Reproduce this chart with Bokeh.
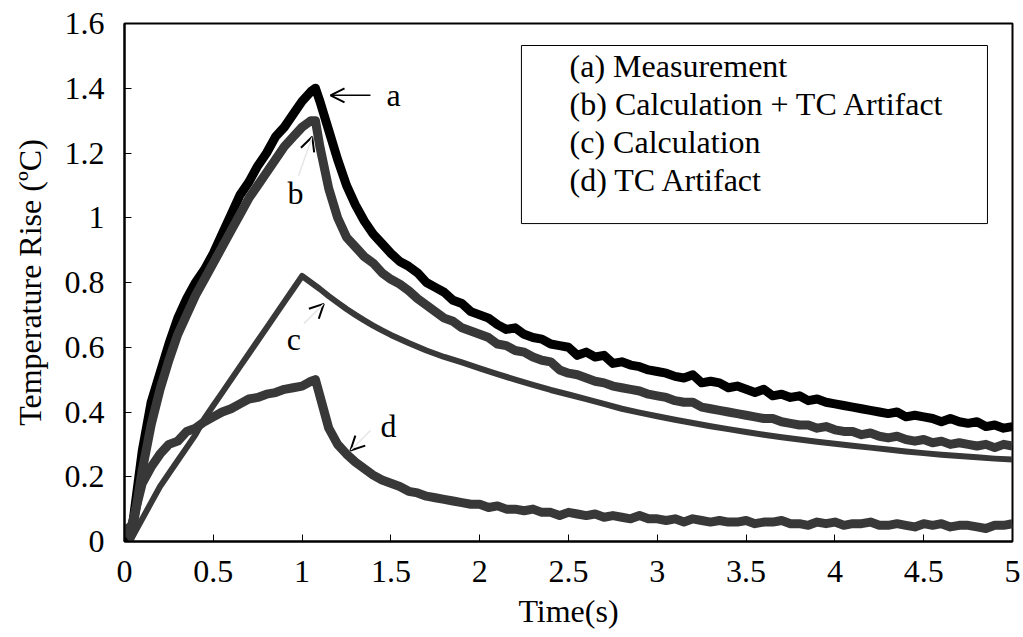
from bokeh.plotting import figure
from bokeh.models import (Range1d, FixedTicker, CustomJSTickFormatter, Arrow, OpenHead,
                          Label, BoxAnnotation)
from bokeh.embed import file_html
from bokeh.resources import INLINE

# ---------------- data ----------------
time_s = [0.00, 0.03, 0.05, 0.10, 0.15, 0.20, 0.25, 0.30, 0.35, 0.40, 0.45, 0.50,
          0.55, 0.60, 0.65, 0.70, 0.75, 0.80, 0.85, 0.90, 0.95, 1.00, 1.05, 1.075,
          1.10, 1.15, 1.20, 1.25, 1.30, 1.35, 1.40, 1.45,
          1.50, 1.55, 1.60, 1.65, 1.70, 1.75, 1.80, 1.85, 1.90, 1.95,
          2.00, 2.05, 2.10, 2.15, 2.20, 2.25, 2.30, 2.35, 2.40, 2.45,
          2.50, 2.55, 2.60, 2.65, 2.70, 2.75, 2.80, 2.85, 2.90, 2.95,
          3.00, 3.05, 3.10, 3.15, 3.20, 3.25, 3.30, 3.35, 3.40, 3.45,
          3.50, 3.55, 3.60, 3.65, 3.70, 3.75, 3.80, 3.85, 3.90, 3.95,
          4.00, 4.05, 4.10, 4.15, 4.20, 4.25, 4.30, 4.35, 4.40, 4.45,
          4.50, 4.55, 4.60, 4.65, 4.70, 4.75, 4.80, 4.85, 4.90, 4.95, 5.00]

measurement = [0.02, 0.01, 0.07, 0.28, 0.43, 0.52, 0.61, 0.69, 0.75, 0.80, 0.84, 0.89,
               0.95, 1.01, 1.07, 1.11, 1.16, 1.20, 1.25, 1.28, 1.32, 1.36, 1.39, 1.40,
               1.36, 1.27, 1.18, 1.10, 1.04, 0.99, 0.95, 0.92,
               0.89, 0.865, 0.85, 0.83, 0.80, 0.785, 0.77, 0.745, 0.735, 0.71,
               0.70, 0.69, 0.67, 0.655, 0.66, 0.64, 0.63, 0.625, 0.61, 0.605,
               0.60, 0.575, 0.585, 0.57, 0.575, 0.55, 0.555, 0.545, 0.54, 0.53,
               0.525, 0.52, 0.51, 0.505, 0.515, 0.49, 0.495, 0.49, 0.475, 0.48,
               0.47, 0.46, 0.47, 0.45, 0.455, 0.445, 0.45, 0.435, 0.44, 0.43,
               0.425, 0.42, 0.415, 0.41, 0.405, 0.40, 0.395, 0.40, 0.385, 0.39,
               0.385, 0.38, 0.37, 0.38, 0.37, 0.365, 0.37, 0.355, 0.36, 0.35, 0.355]

calc_plus_tc = [0.04, 0.02, 0.05, 0.22, 0.36, 0.47, 0.56, 0.64, 0.70, 0.76, 0.81, 0.86,
                0.91, 0.96, 1.01, 1.06, 1.10, 1.14, 1.18, 1.22, 1.25, 1.28, 1.30, 1.30,
                1.22, 1.09, 1.00, 0.94, 0.91, 0.88, 0.86, 0.83,
                0.81, 0.795, 0.775, 0.75, 0.73, 0.71, 0.69, 0.68, 0.66, 0.65,
                0.64, 0.63, 0.61, 0.605, 0.59, 0.585, 0.57, 0.56, 0.555, 0.53,
                0.52, 0.515, 0.505, 0.495, 0.49, 0.48, 0.475, 0.47, 0.465, 0.455,
                0.45, 0.445, 0.435, 0.43, 0.43, 0.415, 0.41, 0.405, 0.40, 0.395,
                0.39, 0.385, 0.38, 0.38, 0.37, 0.365, 0.36, 0.36, 0.35, 0.355,
                0.345, 0.34, 0.34, 0.33, 0.335, 0.325, 0.32, 0.325, 0.315, 0.31,
                0.315, 0.305, 0.31, 0.30, 0.305, 0.30, 0.295, 0.30, 0.29, 0.30, 0.295]

tc_artifact = [0.05, 0.03, 0.07, 0.18, 0.23, 0.27, 0.30, 0.31, 0.34, 0.35, 0.37, 0.385,
               0.40, 0.41, 0.425, 0.44, 0.445, 0.455, 0.46, 0.47, 0.475, 0.48, 0.495, 0.50,
               0.45, 0.35, 0.30, 0.27, 0.245, 0.225, 0.205, 0.19,
               0.18, 0.17, 0.155, 0.15, 0.14, 0.135, 0.13, 0.125, 0.12, 0.115,
               0.115, 0.105, 0.11, 0.10, 0.10, 0.095, 0.10, 0.09, 0.09, 0.08,
               0.09, 0.085, 0.08, 0.085, 0.075, 0.08, 0.075, 0.07, 0.08, 0.07,
               0.07, 0.065, 0.07, 0.06, 0.07, 0.065, 0.06, 0.065, 0.06, 0.06,
               0.065, 0.055, 0.06, 0.06, 0.065, 0.055, 0.055, 0.05, 0.06, 0.055,
               0.06, 0.05, 0.055, 0.055, 0.06, 0.05, 0.05, 0.055, 0.05, 0.045,
               0.055, 0.05, 0.055, 0.045, 0.05, 0.05, 0.045, 0.04, 0.05, 0.05, 0.055]

time_calc = [0.03, 0.05, 0.10, 0.15, 0.20, 0.25, 0.30, 0.35, 0.40, 0.45, 0.50, 0.55,
             0.60, 0.65, 0.70, 0.75, 0.80, 0.85, 0.90, 0.95, 1.00, 1.05, 1.10, 1.15,
             1.20, 1.25, 1.30, 1.35, 1.40, 1.45, 1.50, 1.6, 1.7, 1.8, 1.9, 2.0,
             2.1, 2.2, 2.3, 2.4, 2.5, 2.6, 2.7, 2.8, 2.9, 3.0, 3.1, 3.2, 3.3, 3.4,
             3.5, 3.6, 3.7, 3.8, 3.9, 4.0, 4.1, 4.2, 4.3, 4.4, 4.5, 4.6, 4.7, 4.8,
             4.9, 5.0]
calculation = [0.0, 0.02, 0.07, 0.12, 0.17, 0.21, 0.25, 0.29, 0.33, 0.38, 0.42, 0.46,
               0.50, 0.54, 0.58, 0.62, 0.66, 0.70, 0.74, 0.78, 0.82, 0.80, 0.78, 0.758,
               0.738, 0.718, 0.70, 0.683, 0.667, 0.652, 0.638, 0.613, 0.59, 0.57, 0.553, 0.535,
               0.517, 0.50, 0.484, 0.468, 0.454, 0.44, 0.425, 0.41, 0.398, 0.387, 0.376, 0.366,
               0.356, 0.347, 0.338, 0.33, 0.322, 0.315, 0.308, 0.302, 0.296, 0.29, 0.284, 0.278,
               0.273, 0.268, 0.264, 0.26, 0.256, 0.253]

x_ticks = [0, 0.5, 1, 1.5, 2, 2.5, 3, 3.5, 4, 4.5, 5]
y_ticks = [0, 0.2, 0.4, 0.6, 0.8, 1.0, 1.2, 1.4, 1.6]

legend_labels = ["(a)  Measurement", "(b)  Calculation + TC Artifact",
                 "(c)  Calculation", "(d)  TC Artifact"]

# annotation letters and their arrows: (letter, letter_x, letter_y, tail_x, tail_y, tip_x, tip_y)
callouts = [("a", 1.515, 1.378, 1.385, 1.378, 1.16, 1.378),
            ("b", 0.963, 1.075, 0.98, 1.13, 1.057, 1.25),
            ("c", 0.953, 0.627, 1.01, 0.673, 1.122, 0.734),
            ("d", 1.486, 0.358, 1.385, 0.343, 1.272, 0.281)]

FONT = "Liberation Serif"
GRAY = "#383838"

p = figure(width=1023, height=637, output_backend="svg", toolbar_location=None,
           x_range=Range1d(0, 5), y_range=Range1d(0, 1.6),
           min_border_left=124, min_border_right=11, min_border_top=23, min_border_bottom=96)
p.background_fill_color = "white"
p.border_fill_color = "white"
p.outline_line_color = "black"
p.outline_line_width = 2
p.xgrid.visible = False
p.ygrid.visible = False

fmt = CustomJSTickFormatter(code="return Number(tick.toFixed(2)).toString();")
for ax, ticks in ((p.xaxis[0], x_ticks), (p.yaxis[0], y_ticks)):
    ax.ticker = FixedTicker(ticks=ticks)
    ax.formatter = fmt
    ax.axis_line_width = 2
    ax.axis_line_color = "black"
    ax.major_tick_in = 7
    ax.major_tick_out = 0
    ax.major_tick_line_width = 1
    ax.minor_tick_line_color = None
    ax.major_label_text_font = FONT
    ax.major_label_text_font_size = "32px"
    ax.major_label_text_color = "black"
    ax.axis_label_text_font = FONT
    ax.axis_label_text_font_size = "32px"
    ax.axis_label_text_font_style = "normal"
    ax.axis_label_text_color = "black"

p.xaxis[0].axis_label = "Time(s)"
p.yaxis[0].axis_label = "Temperature Rise (ºC)"
p.xaxis[0].major_label_standoff = 19
p.xaxis[0].axis_label_standoff = 8
p.yaxis[0].major_label_standoff = 20
p.yaxis[0].axis_label_standoff = 14

# curves
p.line(time_s, measurement, line_color="black", line_width=9, line_join="round")
p.line(time_s, calc_plus_tc, line_color=GRAY, line_width=9, line_join="round")
p.line(time_calc, calculation, line_color=GRAY, line_width=6, line_join="round")
p.line(time_s, tc_artifact, line_color=GRAY, line_width=9, line_join="round")

# callouts
for letter, lx, ly, tx, ty, hx, hy in callouts:
    shaft = "black" if letter == "a" else "#e6e6e6"
    p.add_layout(Arrow(x_start=tx, y_start=ty, x_end=hx, y_end=hy,
                       line_color=shaft, line_width=1.5,
                       end=OpenHead(size=14, line_width=2, line_color="black")))
    p.add_layout(Label(x=lx, y=ly, text=letter, text_font=FONT, text_font_size="32px",
                       text_align="center", text_baseline="middle", text_color="black"))

# legend box (text only, as in the reference)
p.add_layout(BoxAnnotation(left=2.235, right=4.859, bottom=0.982, top=1.532,
                           fill_color="white", fill_alpha=1.0,
                           line_color="black", line_alpha=1.0, line_width=1, level="overlay"))
for i, txt in enumerate(legend_labels):
    p.add_layout(Label(x=2.506, y=1.470 - i * 0.118, text=txt, text_font=FONT,
                       text_font_size="32px", text_align="left", text_baseline="middle",
                       text_color="black", level="overlay"))

open("out.html", "w").write(file_html(p, INLINE))
